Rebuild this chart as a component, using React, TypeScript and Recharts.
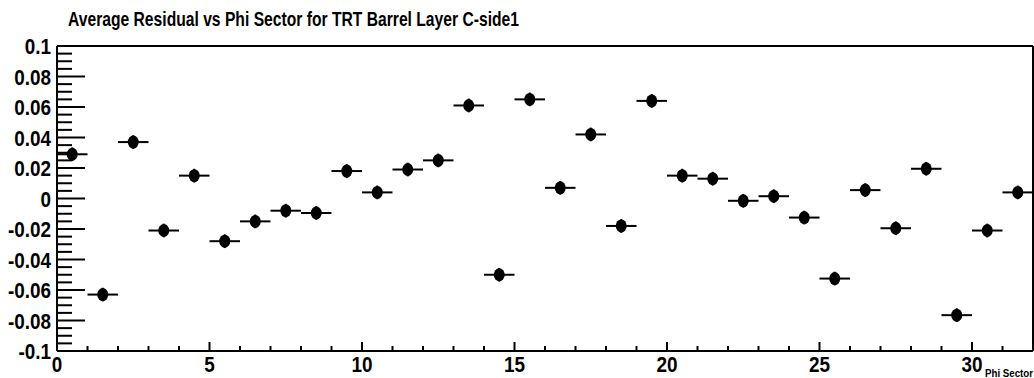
import React from 'react';
import { ScatterChart, Scatter, XAxis, YAxis, ErrorBar, ReferenceLine } from 'recharts';

// phi sector bin centres
const sectors = [
  0.5, 1.5, 2.5, 3.5, 4.5, 5.5, 6.5, 7.5, 8.5, 9.5, 10.5, 11.5, 12.5, 13.5, 14.5, 15.5,
  16.5, 17.5, 18.5, 19.5, 20.5, 21.5, 22.5, 23.5, 24.5, 25.5, 26.5, 27.5, 28.5, 29.5, 30.5, 31.5,
];

// average residual per sector
const residuals = [
  0.029, -0.063, 0.037, -0.021, 0.015, -0.028, -0.015, -0.008, -0.0095, 0.018, 0.004, 0.019, 0.025, 0.061, -0.05, 0.065,
  0.007, 0.042, -0.018, 0.064, 0.015, 0.013, -0.0015, 0.0015, -0.0125, -0.0525, 0.0055, -0.0195, 0.0195, -0.0765, -0.021, 0.004,
];

const binHalfWidth = 0.5;
const residualError = 0.0045;

const xMajorTicks = [0, 5, 10, 15, 20, 25, 30];
const xTicks = [
  0, 1, 2, 3, 4, 5, 6, 7, 8, 9, 10, 11, 12, 13, 14, 15, 16,
  17, 18, 19, 20, 21, 22, 23, 24, 25, 26, 27, 28, 29, 30, 31, 32,
];
const yMajorTicks = [-0.1, -0.08, -0.06, -0.04, -0.02, 0, 0.02, 0.04, 0.06, 0.08, 0.1];
const yMinorPerMajor = 4;

const yTicks: number[] = [];
yMajorTicks.forEach((t, i) => {
  yTicks.push(t);
  if (i < yMajorTicks.length - 1) {
    const step = (yMajorTicks[i + 1] - t) / yMinorPerMajor;
    for (let k = 1; k < yMinorPerMajor; k++) yTicks.push(+(t + k * step).toFixed(4));
  }
});

const rows = sectors.map((s, i) => ({
  sector: s,
  residual: residuals[i],
  xErr: binHalfWidth,
  yErr: residualError,
}));

const FONT = '"Liberation Sans", Arial, Helvetica, sans-serif';
const LABEL_SIZE = 22;
const SQUEEZE = 0.86;

// rough bold helvetica widths, used to squeeze labels like ROOT's narrow font
const textWidth = (s: string) =>
  s.split('').reduce((w, c) => w + (c === '.' ? 0.278 : c === '-' ? 0.333 : 0.556), 0) * LABEL_SIZE * SQUEEZE;

const isMajorY = (v: number) => yMajorTicks.some((m) => Math.abs(m - v) < 1e-6);

function YTick(props: any) {
  const { x, y, payload } = props;
  const major = isMajorY(payload.value);
  const label = String(+payload.value.toFixed(3));
  return (
    <g>
      <line x1={x} y1={y} x2={x + (major ? 28 : 15)} y2={y} stroke="#000" strokeWidth={2} />
      {major && (
        <text
          x={x - 6}
          y={y + 8}
          textAnchor="end"
          fontSize={LABEL_SIZE}
          fontWeight="bold"
          fontFamily={FONT}
          textLength={textWidth(label)}
          lengthAdjust="spacingAndGlyphs"
          fill="#000"
        >
          {label}
        </text>
      )}
    </g>
  );
}

function XTick(props: any) {
  const { x, y, payload } = props;
  const major = xMajorTicks.includes(payload.value);
  const label = String(payload.value);
  return (
    <g>
      <line x1={x} y1={y} x2={x} y2={y - (major ? 9 : 5)} stroke="#000" strokeWidth={2} />
      {major && (
        <text
          x={x}
          y={y + 21}
          textAnchor="middle"
          fontSize={LABEL_SIZE}
          fontWeight="bold"
          fontFamily={FONT}
          textLength={textWidth(label)}
          lengthAdjust="spacingAndGlyphs"
          fill="#000"
        >
          {label}
        </text>
      )}
    </g>
  );
}

const Marker = (p: any) => <ellipse cx={p.cx} cy={p.cy} rx={5.5} ry={6.5} fill="#000" />;

export default function App() {
  return (
    <div style={{ position: 'absolute', left: 0, top: 0, width: 1034, height: 378, background: '#fff', overflow: 'hidden' }}>
      <ScatterChart width={1034} height={378} margin={{ top: 46, right: 1, left: 0, bottom: 0 }}>
        <XAxis
          type="number"
          dataKey="sector"
          domain={[0, 32]}
          ticks={xTicks}
          interval={0}
          height={27}
          tickSize={0}
          tickMargin={0}
          tickLine={false}
          axisLine={{ stroke: '#000', strokeWidth: 2 }}
          tick={<XTick />}
        />
        <YAxis
          type="number"
          dataKey="residual"
          domain={[-0.1, 0.1]}
          ticks={yTicks}
          interval={0}
          width={57}
          tickSize={0}
          tickMargin={0}
          tickLine={false}
          axisLine={{ stroke: '#000', strokeWidth: 2 }}
          tick={<YTick />}
        />
        <ReferenceLine y={0.1} stroke="#000" strokeWidth={2} />
        <ReferenceLine x={32} stroke="#000" strokeWidth={2} />
        <Scatter data={rows} shape={Marker} isAnimationActive={false}>
          <ErrorBar dataKey="xErr" direction="x" width={0} stroke="#000" strokeWidth={2} isAnimationActive={false} />
          <ErrorBar dataKey="yErr" direction="y" width={0} stroke="#000" strokeWidth={2} isAnimationActive={false} />
        </Scatter>
      </ScatterChart>
      <svg width={1034} height={378} style={{ position: 'absolute', left: 0, top: 0, pointerEvents: 'none' }}>
        <text x={68} y={26} fontSize={21} fontWeight="bold" fontFamily={FONT} textLength={451} lengthAdjust="spacingAndGlyphs" fill="#000">
          Average Residual vs Phi Sector for TRT Barrel Layer C-side1
        </text>
        <text x={985} y={377} fontSize={10} fontWeight="bold" fontFamily={FONT} textLength={48} lengthAdjust="spacingAndGlyphs" fill="#000">
          Phi Sector
        </text>
      </svg>
    </div>
  );
}
